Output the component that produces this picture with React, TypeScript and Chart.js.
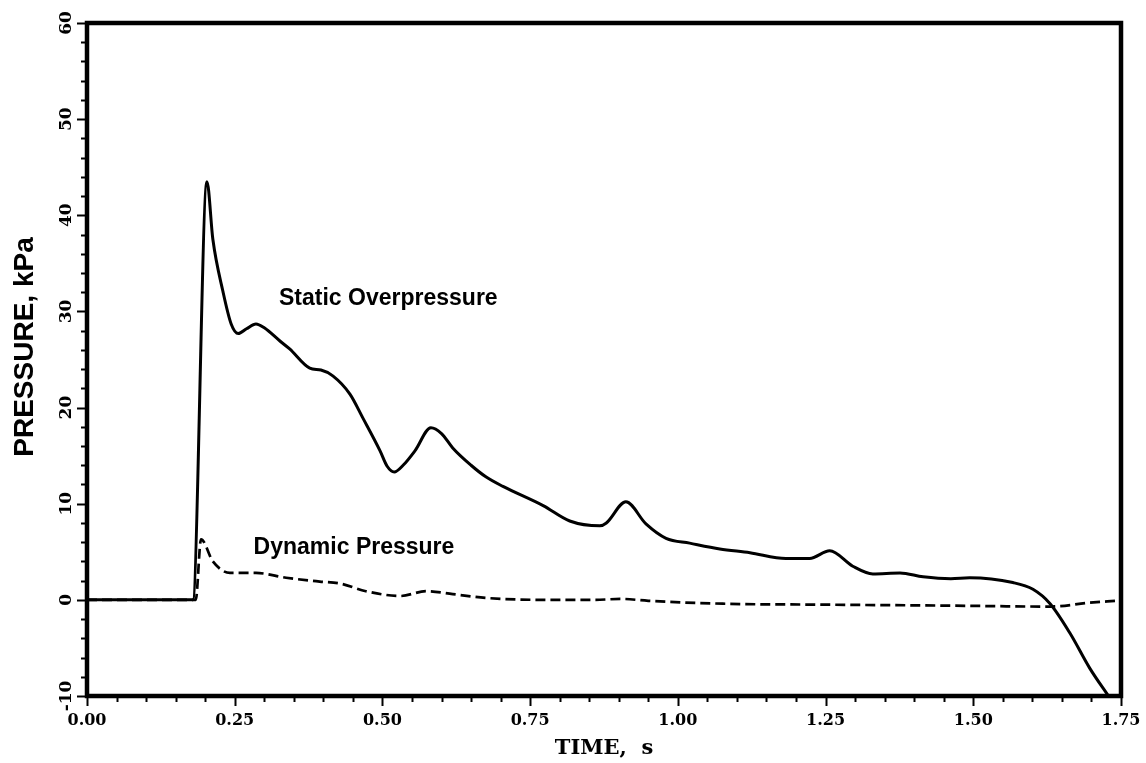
import React, { useEffect, useRef } from "react";
import { Chart, registerables } from "chart.js";

Chart.register(...registerables);

// ---- Data ----
const staticTime = [
  0, 0.179, 0.203, 0.213, 0.23, 0.244, 0.256, 0.27, 0.286, 0.3, 0.327, 0.343,
  0.377, 0.396, 0.416, 0.445, 0.467, 0.496, 0.508, 0.52, 0.535, 0.555, 0.582,
  0.6, 0.619, 0.65, 0.675, 0.704, 0.772, 0.817, 0.868, 0.879, 0.912, 0.946,
  0.98, 1.02, 1.071, 1.122, 1.183, 1.223, 1.257, 1.296, 1.33, 1.376, 1.415,
  1.462, 1.494, 1.567, 1.601, 1.63, 1.664, 1.697, 1.731,
];
const staticPressure = [
  0, 0, 43.5, 37.5, 32.1, 28.7, 27.7, 28.2, 28.7, 28.3, 26.9, 26.1, 24.1, 23.9,
  23.3, 21.4, 18.9, 15.5, 13.9, 13.3, 14.0, 15.5, 17.9, 17.3, 15.8, 14.0, 12.8,
  11.8, 9.8, 8.2, 7.7, 8.0, 10.2, 7.9, 6.4, 5.9, 5.3, 4.9, 4.3, 4.3, 5.1, 3.5,
  2.7, 2.8, 2.4, 2.2, 2.3, 1.8, 1.1, -0.4, -3.5, -7.1, -10.2,
];

const dynamicTime = [
  0, 0.184, 0.193, 0.213, 0.242, 0.286, 0.337, 0.394, 0.428, 0.472, 0.53,
  0.574, 0.619, 0.675, 0.777, 0.86, 0.903, 0.95, 1.076, 1.25, 1.46, 1.63,
  1.697, 1.74,
];
const dynamicPressure = [
  0, 0, 6.3, 4.0, 2.8, 2.8, 2.3, 1.9, 1.7, 0.9, 0.4, 0.9, 0.6, 0.2, 0.0, 0.0,
  0.1, -0.1, -0.4, -0.5, -0.6, -0.7, -0.3, -0.1,
];

const xTitle = "TIME,  s";
const yTitle = "PRESSURE, kPa";
const staticLabel = "Static Overpressure";
const dynamicLabel = "Dynamic Pressure";
// label anchors in data units [time, pressure]
const staticLabelAt = [0.325, 31.3];
const dynamicLabelAt = [0.282, 5.4];

const W = 1146;
const H = 763;

const decorPlugin = {
  id: "decor",
  afterDraw(chart: any) {
    const { ctx, chartArea: a, scales } = chart;
    const xs = scales.x;
    const ys = scales.y;
    ctx.save();
    ctx.strokeStyle = "#000";
    ctx.fillStyle = "#000";
    // frame
    ctx.lineWidth = 4.5;
    ctx.strokeRect(a.left, a.top, a.right - a.left, a.bottom - a.top);
    // y ticks: minor every 2, major every 10
    ctx.lineWidth = 2;
    for (let v = ys.min; v <= ys.max + 1e-9; v += 2) {
      const p = Math.round(ys.getPixelForValue(v)) + 0.5;
      const major = Math.abs(v % 10) < 1e-9;
      ctx.beginPath();
      ctx.moveTo(a.left, p);
      ctx.lineTo(a.left - (major ? 10 : 6), p);
      ctx.stroke();
    }
    // x ticks: minor every 0.05, major every 0.25
    for (let i = 0; i <= 35; i++) {
      const v = i * 0.05;
      const p = Math.round(xs.getPixelForValue(v)) + 0.5;
      const major = i % 5 === 0;
      ctx.beginPath();
      ctx.moveTo(p, a.bottom);
      ctx.lineTo(p, a.bottom + (major ? 10 : 6));
      ctx.stroke();
    }
    // y tick labels (rotated)
    ctx.font = "bold 17px 'DejaVu Serif'";
    ctx.textAlign = "center";
    ctx.textBaseline = "middle";
    ys.ticks.forEach((t: any) => {
      const p = ys.getPixelForValue(t.value);
      ctx.save();
      ctx.translate(67, p);
      ctx.rotate(-Math.PI / 2);
      ctx.fillText(String(t.value), 0, 0);
      ctx.restore();
    });
    // y axis title
    ctx.font = "bold 28px 'Liberation Sans'";
    ctx.save();
    ctx.translate(25, 347);
    ctx.rotate(-Math.PI / 2);
    ctx.fillText(yTitle, 0, 0);
    ctx.restore();
    // curve labels
    ctx.font = "bold 23px 'Liberation Sans'";
    ctx.textAlign = "left";
    ctx.textBaseline = "middle";
    ctx.fillText(
      staticLabel,
      xs.getPixelForValue(staticLabelAt[0]),
      ys.getPixelForValue(staticLabelAt[1])
    );
    ctx.fillText(
      dynamicLabel,
      xs.getPixelForValue(dynamicLabelAt[0]),
      ys.getPixelForValue(dynamicLabelAt[1])
    );
    ctx.restore();
  },
};

export default function App() {
  const ref = useRef<HTMLCanvasElement | null>(null);
  useEffect(() => {
    if (!ref.current) return;
    const chart = new Chart(ref.current, {
      type: "line",
      data: {
        datasets: [
          {
            label: staticLabel,
            data: staticTime.map((t, i) => ({ x: t, y: staticPressure[i] })),
            borderColor: "#000",
            borderWidth: 3,
            pointRadius: 0,
            cubicInterpolationMode: "monotone",
            fill: false,
          },
          {
            label: dynamicLabel,
            data: dynamicTime.map((t, i) => ({ x: t, y: dynamicPressure[i] })),
            borderColor: "#000",
            borderWidth: 2.7,
            borderDash: [10, 5],
            pointRadius: 0,
            cubicInterpolationMode: "monotone",
            fill: false,
          },
        ],
      },
      options: {
        responsive: false,
        animation: false,
        devicePixelRatio: 1,
        layout: { padding: { left: 0, right: 25, top: 23, bottom: 0 } },
        plugins: {
          legend: { display: false },
          tooltip: { enabled: false },
        },
        scales: {
          x: {
            type: "linear",
            min: 0,
            max: 1.75,
            grid: { display: false, drawTicks: false },
            border: { display: false },
            ticks: {
              stepSize: 0.25,
              autoSkip: false,
              maxRotation: 0,
              padding: 15,
              color: "#000",
              font: { family: "'DejaVu Serif'", weight: "bold", size: 16 },
              callback: (v: any) => Number(v).toFixed(2),
            },
            title: {
              display: true,
              text: xTitle,
              color: "#000",
              font: { family: "'DejaVu Serif'", weight: "bold", size: 21 },
              padding: { top: 0, bottom: 2 },
            },
            afterFit: (axis: any) => {
              axis.height = 67;
              axis.paddingLeft = 0;
              axis.paddingRight = 0;
            },
          },
          y: {
            type: "linear",
            min: -10,
            max: 60,
            grid: { display: false, drawTicks: false },
            border: { display: false },
            ticks: { stepSize: 10, display: false },
            title: { display: false },
            afterFit: (axis: any) => {
              axis.width = 87;
              axis.paddingTop = 0;
              axis.paddingBottom = 0;
            },
          },
        },
      },
      plugins: [decorPlugin],
    });
    return () => chart.destroy();
  }, []);
  return (
    <div style={{ position: "absolute", left: 0, top: 0, width: W, height: H, background: "#fff" }}>
      <canvas ref={ref} width={W} height={H} style={{ display: "block" }} />
    </div>
  );
}
